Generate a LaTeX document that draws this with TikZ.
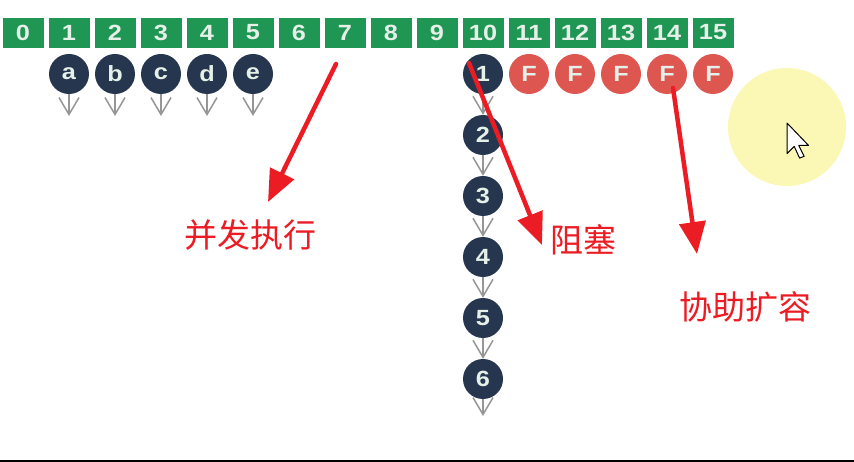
\documentclass[tikz,border=0pt]{standalone}
\usepackage{fontspec}
\setmainfont{Liberation Sans}
\newfontfamily\cjk{Noto Sans CJK SC}
\newfontfamily\digfont[FakeStretch=1.15]{Liberation Sans}
\usetikzlibrary{arrows.meta}
\definecolor{boxgreen}{RGB}{32,150,84}
\definecolor{navy}{RGB}{38,54,78}
\definecolor{fred}{RGB}{222,86,80}
\definecolor{redarrow}{RGB}{236,28,36}
\definecolor{lightyellow}{RGB}{250,248,180}
\definecolor{chevgray}{RGB}{150,150,150}
\definecolor{numwhite}{RGB}{228,240,232}
\begin{document}
\begin{tikzpicture}[x=1pt,y=-1pt,
  slot/.style={draw=white,line width=0.8pt,fill=boxgreen,minimum width=42pt,minimum height=31pt,inner sep=0pt,text=numwhite,font=\digfont\bfseries\fontsize{22}{22}\selectfont},
  ball/.style={circle,fill=navy,minimum size=40pt,inner sep=0pt,text=numwhite,font=\digfont\bfseries\fontsize{22}{22}\selectfont},
  fball/.style={ball,fill=fred},
  chev/.style={draw=chevgray,line width=1.5pt,-{Straight Barb[length=17pt,width=20pt,line width=1.5pt]}},
  redarr/.style={draw=redarrow,line width=4.5pt,line cap=round,-{Triangle[length=32pt,width=26pt]}},
  lab/.style={text=redarrow,font=\cjk\fontsize{33}{33}\selectfont,inner sep=0pt}]
\useasboundingbox (0,0) rectangle (854,462);
\fill[white] (0,0) rectangle (854,462);
% highlight circle and cursor
\fill[lightyellow] (787,127) circle (59);
\draw[black,line width=1pt,fill=white,line join=round]
  (787,123) -- ++(0,30.6) -- ++(7.2,-7.2) -- ++(5.4,11.7) -- ++(4.5,-1.8) -- ++(-5.4,-10.8) -- ++(9.9,0) -- cycle;
% slots
\foreach \i in {0,...,15}{
  \node[slot] (b\i) at ({23+46*\i},32.5) {\i};
}
% a-e
\foreach \l [count=\k] in {a,b,c,d,e}{
  \node[ball] (\l) at ({23+46*\k},74) {\l};
  \coordinate (\l end) at ({23+46*\k},116);
  \draw[chev] (\l.south) -- (\l end);
}
% chain
\foreach \n in {1,...,6}{
  \node[ball] (c\n) at (483,{74+61*(\n-1)}) {\n};
}
\foreach \n [evaluate=\n as \m using int(\n+1)] in {1,...,5}{
  \draw[chev] (c\n.south) -- (c\m.north);
}
\coordinate (c6end) at (483,416);
\draw[chev] (c6.south) -- (c6end);
% F balls
\foreach \k in {11,...,15}{
  \node[fball] (f\k) at ({23+46*\k},74) {F};
}
% labels
\node[lab] (t1) at (250,235) {并发执行};
\node[lab] (t2) at (583,240) {阻塞};
\node[lab] (t3) at (745,307) {协助扩容};
% red arrows
\coordinate (s1) at (336,64);
\coordinate (e1) at (268,202);
\coordinate (s2) at (469,63);
\coordinate (e2) at (542,245);
\coordinate (s3) at (673,88);
\coordinate (e3) at (697,254);
\draw[redarr] (s1) -- (e1);
\draw[redarr] (s2) -- (e2);
\draw[redarr] (s3) -- (e3);
% bottom rule
\coordinate (l0) at (0,460.5);
\coordinate (l1) at (854,460.5);
\draw[black,line width=2pt] (l0) -- (l1);
\end{tikzpicture}
\end{document}
